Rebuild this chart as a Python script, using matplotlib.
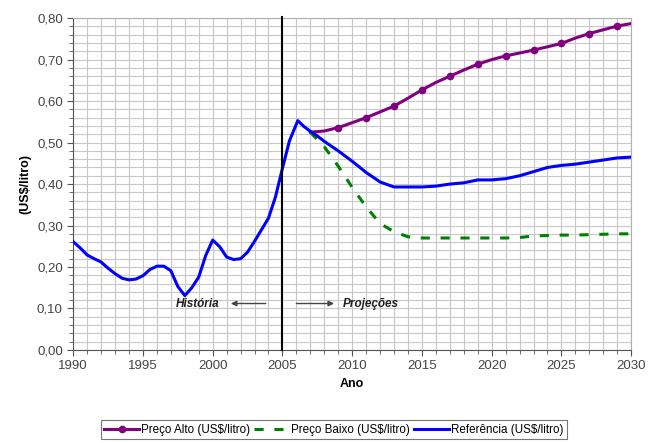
import matplotlib
matplotlib.use("Agg")
import matplotlib.pyplot as plt
from matplotlib.ticker import MultipleLocator, FuncFormatter

plt.rcParams['font.family'] = ['Liberation Sans', 'DejaVu Sans']

# Referência (US$/litro) - half-year readings for the history, yearly after
ref_years = [1990.0, 1990.5, 1991.0, 1991.5, 1992.0, 1992.5, 1993.0, 1993.5, 1994.0, 1994.5,
             1995.0, 1995.5, 1996.0, 1996.5, 1997.0, 1997.5, 1998.0, 1998.5, 1999.0, 1999.5,
             2000.0, 2000.5, 2001.0, 2001.5, 2002.0, 2002.5, 2003.0, 2003.5, 2004.0, 2004.5,
             2005.0, 2005.5, 2006.1, 2006.5, 2007.0, 2007.5, 2008, 2009, 2010, 2011,
             2012, 2013, 2014, 2015, 2016, 2017, 2018, 2019, 2020, 2021,
             2022, 2023, 2024, 2025, 2026, 2027, 2028, 2029, 2030]
ref_vals = [0.261, 0.246, 0.229, 0.220, 0.212, 0.197, 0.184, 0.173, 0.169, 0.171,
            0.179, 0.194, 0.202, 0.202, 0.191, 0.153, 0.131, 0.150, 0.176, 0.228,
            0.265, 0.249, 0.224, 0.218, 0.220, 0.236, 0.262, 0.290, 0.318, 0.369,
            0.438, 0.504, 0.553, 0.540, 0.527, 0.516, 0.503, 0.480, 0.455, 0.428,
            0.405, 0.393, 0.393, 0.393, 0.395, 0.400, 0.403, 0.410, 0.410, 0.413,
            0.420, 0.430, 0.440, 0.445, 0.448, 0.453, 0.458, 0.463, 0.465]

# Preço Alto (US$/litro)
alto_years = list(range(2007, 2031))
alto_vals = [0.525, 0.528, 0.536, 0.548, 0.560, 0.574, 0.588, 0.607, 0.627, 0.645,
             0.660, 0.675, 0.689, 0.700, 0.709, 0.716, 0.723, 0.731, 0.739, 0.752,
             0.763, 0.772, 0.781, 0.787]

# Preço Baixo (US$/litro)
baixo_years = list(range(2007, 2031))
baixo_vals = [0.525, 0.490, 0.443, 0.392, 0.345, 0.305, 0.285, 0.273, 0.270, 0.270,
              0.270, 0.270, 0.270, 0.270, 0.270, 0.271, 0.275, 0.276, 0.277, 0.277,
              0.278, 0.279, 0.280, 0.280]

fig = plt.figure(figsize=(6.48, 4.43), dpi=100)
ax = fig.add_axes([0.113, 0.21, 0.861, 0.749])

ax.plot(alto_years, alto_vals, color='#800080', lw=2.2, marker='o', ms=4.5,
        markevery=(2, 2), label='Preço Alto (US$/litro)', zorder=3)
ax.plot(baixo_years, baixo_vals, color='#008000', lw=2.2, ls=(0, (3, 3.5)),
        label='Preço Baixo (US$/litro)', zorder=3)
ax.plot(ref_years, ref_vals, color='#0000ff', lw=2.2, label='Referência (US$/litro)', zorder=4)

ax.axvline(2005, ymin=0, ymax=1.005, color='black', lw=1.5, clip_on=False, zorder=5)

ax.set_xlim(1990, 2030)
ax.set_ylim(0, 0.8)
ax.xaxis.set_major_locator(MultipleLocator(5))
ax.xaxis.set_minor_locator(MultipleLocator(1))
ax.yaxis.set_major_locator(MultipleLocator(0.1))
ax.yaxis.set_minor_locator(MultipleLocator(0.02))
ax.yaxis.set_major_formatter(FuncFormatter(lambda v, p: f"{v:.2f}".replace('.', ',')))

ax.grid(True, which='both', color='#c8c8c8', lw=0.8)
ax.set_axisbelow(True)
ax.tick_params(which='both', direction='out', colors='#555555', labelcolor='#444444',
               labelsize=9.5, length=4)
ax.tick_params(which='minor', length=3)
for s in ['top', 'right']:
    ax.spines[s].set_color('#b0b0b0')
for s in ['left', 'bottom']:
    ax.spines[s].set_color('#555555')

ax.set_ylabel('(US$/litro)', fontweight='bold', fontsize=9)
ax.set_xlabel('Ano', fontweight='bold', fontsize=9)

ax.text(1998.9, 0.112, 'História', fontstyle='italic', fontweight='bold',
        fontsize=8.5, ha='center', va='center', color='#222222')
ax.annotate('', xy=(2001.1, 0.112), xytext=(2004.0, 0.112),
            arrowprops=dict(arrowstyle='-|>', color='#444444', lw=1, mutation_scale=8))
ax.annotate('', xy=(2008.9, 0.112), xytext=(2005.8, 0.112),
            arrowprops=dict(arrowstyle='-|>', color='#444444', lw=1, mutation_scale=8))
ax.text(2009.3, 0.112, 'Projeções', fontstyle='italic', fontweight='bold',
        fontsize=8.5, ha='left', va='center', color='#222222')

leg = fig.legend(loc='center', bbox_to_anchor=(0.515, 0.03), ncol=3, fontsize=8.4,
                 frameon=True, fancybox=False, edgecolor='#555555',
                 handlelength=3, columnspacing=0.3, handletextpad=0.2,
                 borderpad=0.3)
leg.get_frame().set_linewidth(0.8)

fig.savefig('out.png', dpi=100)
